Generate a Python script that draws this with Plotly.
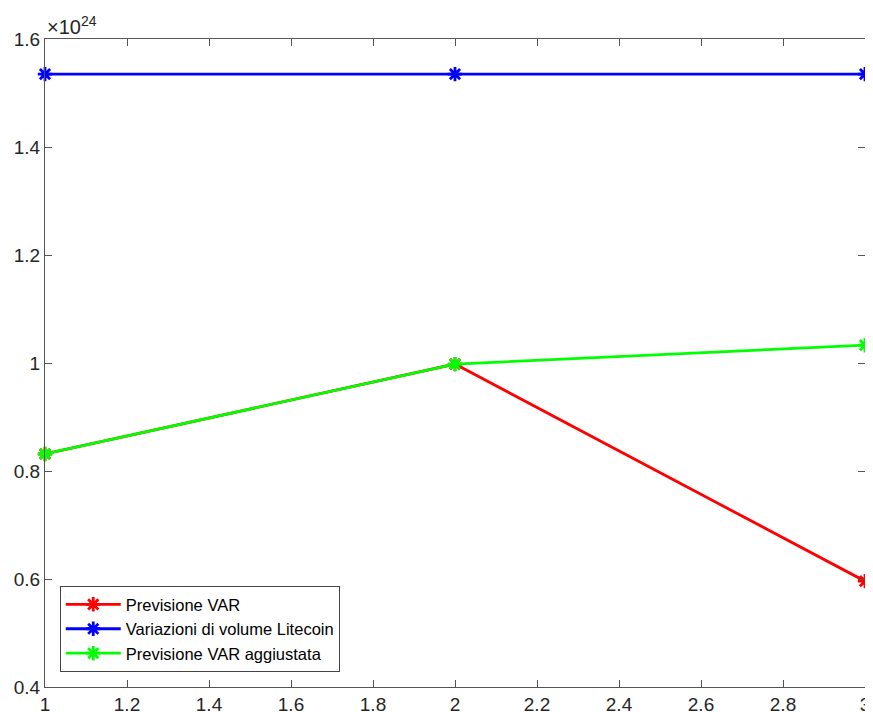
import plotly.graph_objects as go

x = [1, 2, 3]
# values in units of 1e24
previsione_var = [0.8315, 0.998, 0.596]
variazioni_volume = [1.535, 1.535, 1.535]
previsione_agg = [0.8315, 0.998, 1.033]

names = ["Previsione VAR", "Variazioni di volume Litecoin", "Previsione VAR aggiustata"]
colors = ["#ff0000", "#0000ff", "#00ff00"]
series = [previsione_var, variazioni_volume, previsione_agg]

xticks = [1, 1.2, 1.4, 1.6, 1.8, 2, 2.2, 2.4, 2.6, 2.8, 3]
xticktext = ["1", "1.2", "1.4", "1.6", "1.8", "2", "2.2", "2.4", "2.6", "2.8", "3"]
yticks = [0.4, 0.6, 0.8, 1.0, 1.2, 1.4, 1.6]
yticktext = ["0.4", "0.6", "0.8", "1", "1.2", "1.4", "1.6"]

fig = go.Figure()
for name, col, ys in zip(names, colors, series):
    fig.add_trace(go.Scatter(
        x=x, y=ys, name=name, mode="lines+markers",
        line=dict(color=col, width=2.8),
        marker=dict(symbol="asterisk-open", size=12, color=col,
                    line=dict(color=col, width=2.8)),
        cliponaxis=False,
    ))

axis_common = dict(showgrid=False, zeroline=False, showline=True, linecolor="#555555",
                   linewidth=1, mirror="ticks", ticks="inside", ticklen=7,
                   tickcolor="#555555", automargin=False,
                   tickfont=dict(family="Liberation Sans, Arial", size=19, color="#262626"))

fig.update_xaxes(range=[1, 3], tickvals=xticks, ticktext=xticktext, **axis_common)
fig.update_yaxes(range=[0.4, 1.6], tickvals=yticks, ticktext=yticktext, **axis_common)

fig.add_annotation(xref="paper", yref="paper", x=0, y=1, xanchor="left", yanchor="bottom",
                   text="×10<sup>24</sup>", showarrow=False, yshift=-1,
                   font=dict(family="Liberation Sans, Arial", size=20, color="#262626"))

# page body has an 8px default margin, so the figure is sized to fit the 873x712 window
fig.update_layout(
    width=865, height=704,
    margin=dict(l=37, r=8, t=31, b=25),
    paper_bgcolor="white", plot_bgcolor="white",
    showlegend=True,
    legend=dict(x=0.018, y=0.023, xanchor="left", yanchor="bottom",
                bgcolor="white", bordercolor="#444444", borderwidth=1,
                font=dict(family="Liberation Sans, Arial", size=16.5, color="#000000"),
                tracegroupgap=0, itemwidth=55),
)

fig.write_html("out.html")
